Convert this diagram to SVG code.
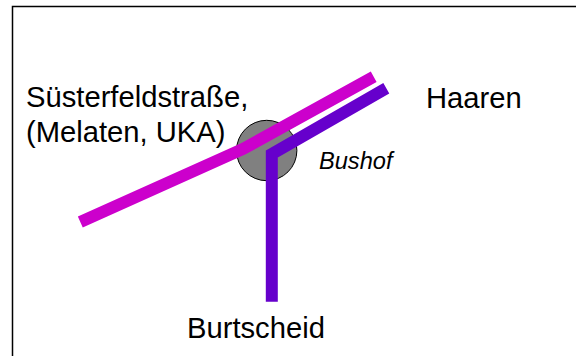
<svg xmlns="http://www.w3.org/2000/svg" width="576" height="356" viewBox="0 0 576 356">
<style>
text{font-family:"Liberation Sans",Arial,sans-serif;font-size:29.2px;fill:#000}
.line{fill:none;stroke-width:12;stroke-linejoin:miter;stroke-linecap:butt}
</style>
<rect width="576" height="356" fill="#fff"/>
<path id="frame" d="M12.5 356V6.5H576" fill="none" stroke="#000" stroke-width="1.5"/>
<g id="node-bushof">
<circle cx="266.7" cy="150.5" r="30.2" fill="#808080" stroke="#000" stroke-width="1"/>
<text x="319" y="168.7" style="font-size:23.6px;font-style:italic">Bushof</text>
</g>
<g id="connectors">
<path class="line" stroke="#cc00cc" d="M80.3 222L243 149L373.7 76.7"/>
<path class="line" stroke="#6600cc" d="M386.3 88.3L271.8 154V301.7"/>
</g>
<g id="node-suesterfeld">
<text x="26" y="107">Süsterfeldstraße,</text>
<text x="26" y="142">(Melaten, UKA)</text>
</g>
<g id="node-haaren"><text x="426" y="107.5">Haaren</text></g>
<g id="node-burtscheid"><text x="187" y="337.8">Burtscheid</text></g>
</svg>
